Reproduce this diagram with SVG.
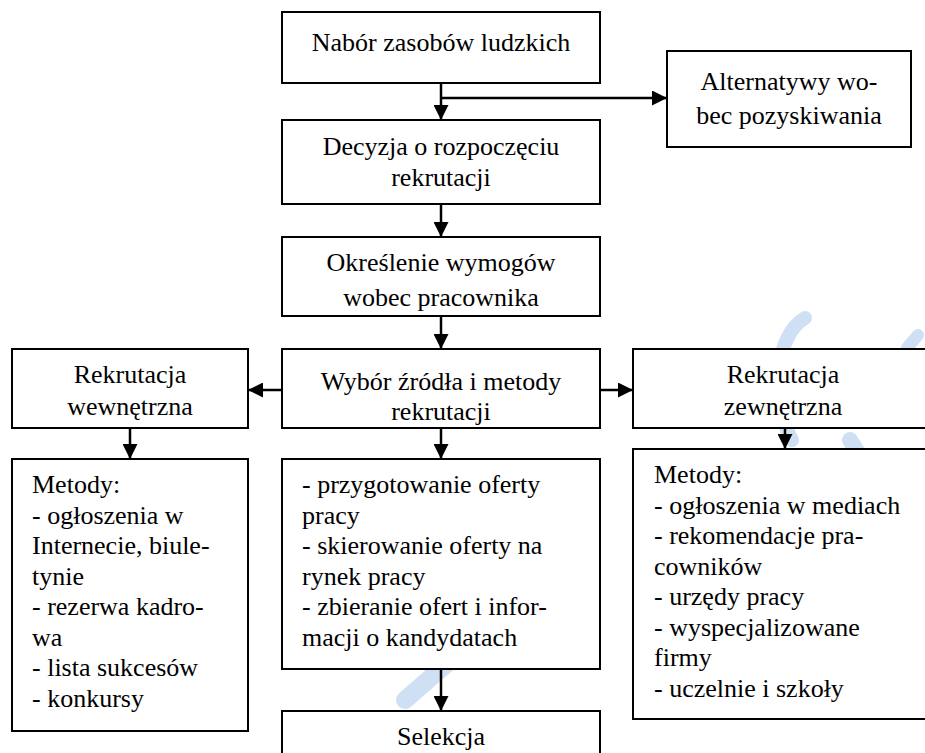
<svg xmlns="http://www.w3.org/2000/svg" width="925" height="753" viewBox="0 0 925 753" font-family="Liberation Serif, Times New Roman, Tinos, DejaVu Serif, Noto Serif, serif" font-size="26">
<style>
.box{fill:#ffffff;stroke:#000000;stroke-width:2}
.c{text-anchor:middle}
.ln{stroke:#000000;stroke-width:2.5;fill:none}
.wm{stroke:#cfdff4;fill:none;stroke-linecap:round}
</style>
<defs>
<marker id="ah" viewBox="0 0 10 10" refX="10" refY="5" markerWidth="6" markerHeight="6" markerUnits="strokeWidth" orient="auto">
<path d="M0,0 L10,5 L0,10 Z" fill="#000000"/>
</marker>
</defs>
<rect width="925" height="753" fill="#ffffff"/>
<g id="watermark">
<path class="wm" stroke-width="14" d="M805,318 C775,335 770,400 792,440"/>
<path class="wm" stroke-width="12" d="M918,335 L907,348"/>
<path class="wm" stroke-width="16" d="M850,440 L925,560"/>
<path class="wm" stroke-width="18" d="M405,700 L560,565"/>
<path class="wm" stroke-width="12" d="M455,745 L468,732"/>
</g>
<g id="connectors">
<line class="ln" x1="441" y1="83" x2="441" y2="120" marker-end="url(#ah)"/>
<line class="ln" x1="441" y1="98" x2="667" y2="98" marker-end="url(#ah)"/>
<line class="ln" x1="441" y1="204" x2="441" y2="237" marker-end="url(#ah)"/>
<line class="ln" x1="441" y1="316" x2="441" y2="349" marker-end="url(#ah)"/>
<line class="ln" x1="282" y1="390" x2="248" y2="390" marker-end="url(#ah)"/>
<line class="ln" x1="600" y1="390" x2="633" y2="390" marker-end="url(#ah)"/>
<line class="ln" x1="130" y1="428" x2="130" y2="459" marker-end="url(#ah)"/>
<line class="ln" x1="441" y1="428" x2="441" y2="459" marker-end="url(#ah)"/>
<line class="ln" x1="785" y1="428" x2="785" y2="449" marker-end="url(#ah)"/>
<line class="ln" x1="441" y1="669" x2="441" y2="711" marker-end="url(#ah)"/>
</g>
<g id="n1">
<rect class="box" x="282" y="12" width="318" height="71"/>
<text class="c" x="441" y="51">Nabór zasobów ludzkich</text>
</g>
<g id="n2">
<rect class="box" x="667" y="51" width="244" height="96"/>
<text class="c" x="789" y="90">Alternatywy wo-</text>
<text class="c" x="789" y="124">bec pozyskiwania</text>
</g>
<g id="n3">
<rect class="box" x="282" y="120" width="318" height="84"/>
<text class="c" x="441" y="155">Decyzja o rozpoczęciu</text>
<text class="c" x="441" y="186">rekrutacji</text>
</g>
<g id="n4">
<rect class="box" x="282" y="237" width="318" height="79"/>
<text class="c" x="441" y="271">Określenie wymogów</text>
<text class="c" x="441" y="306">wobec pracownika</text>
</g>
<g id="n5">
<rect class="box" x="282" y="349" width="318" height="79"/>
<text class="c" x="441" y="390">Wybór źródła i metody</text>
<text class="c" x="441" y="420">rekrutacji</text>
</g>
<g id="n6">
<rect class="box" x="12" y="349" width="236" height="79"/>
<text class="c" x="130" y="383">Rekrutacja</text>
<text class="c" x="130" y="415">wewnętrzna</text>
</g>
<g id="n7">
<rect class="box" x="633" y="349" width="300" height="79"/>
<text class="c" x="783" y="383">Rekrutacja</text>
<text class="c" x="783" y="415">zewnętrzna</text>
</g>
<g id="n8">
<rect class="box" x="12" y="459" width="236" height="272"/>
<text x="32" y="493">Metody:</text>
<text x="32" y="523.5">- ogłoszenia w</text>
<text x="32" y="554">Internecie, biule-</text>
<text x="32" y="584.5">tynie</text>
<text x="32" y="615">- rezerwa kadro-</text>
<text x="32" y="645.5">wa</text>
<text x="32" y="676">- lista sukcesów</text>
<text x="32" y="706.5">- konkursy</text>
</g>
<g id="n9">
<rect class="box" x="282" y="459" width="318" height="210"/>
<text x="302" y="493">- przygotowanie oferty</text>
<text x="302" y="523.5">pracy</text>
<text x="302" y="554">- skierowanie oferty na</text>
<text x="302" y="584.5">rynek pracy</text>
<text x="302" y="615">- zbieranie ofert i infor-</text>
<text x="302" y="645.5">macji o kandydatach</text>
</g>
<g id="n10">
<rect class="box" x="633" y="449" width="300" height="270"/>
<text x="654" y="483">Metody:</text>
<text x="654" y="513.5">- ogłoszenia w mediach</text>
<text x="654" y="544">- rekomendacje pra-</text>
<text x="654" y="574.5">cowników</text>
<text x="654" y="605">- urzędy pracy</text>
<text x="654" y="635.5">- wyspecjalizowane</text>
<text x="654" y="666">firmy</text>
<text x="654" y="696.5">- uczelnie i szkoły</text>
</g>
<g id="n11">
<rect class="box" x="282" y="711" width="318" height="60"/>
<text class="c" x="441" y="745">Selekcja</text>
</g>
</svg>
